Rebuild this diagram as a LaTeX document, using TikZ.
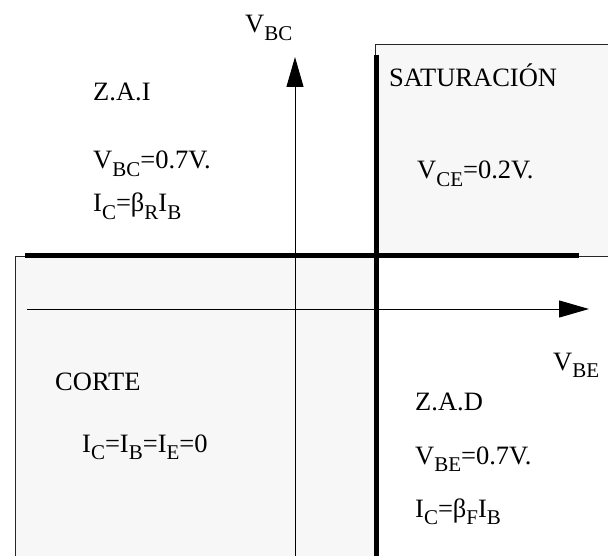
\documentclass[tikz,border=0pt]{standalone}
\usepackage{fontspec}
\setmainfont{Liberation Serif}
\usetikzlibrary{arrows.meta}
\definecolor{zonefill}{gray}{0.97}
\newcommand{\lowtx}[1]{\raisebox{-7.5pt}{\fontsize{21}{21}\selectfont #1}}

\begin{document}
\begin{tikzpicture}[x=1pt, y=-1pt,
    zone/.style={fill=zonefill, draw=black!85, line width=0.8pt},
    border/.style={line width=5pt},
    axis/.style={line width=1pt, -{Triangle[length=30pt, width=17pt]}},
    lbl/.style={anchor=base west, inner sep=0pt, font=\fontsize{26.5}{30}\selectfont}]
      \useasboundingbox (0,0) rectangle (608,556);

      % regions
      \draw[zone] (375,44) rectangle (630,256);
      \draw[zone] (15,256) rectangle (375,580);

      % ends of the lines
      \coordinate (hb0) at (25,256);
      \coordinate (hb1) at (579,256);
      \coordinate (vb0) at (376,55);
      \coordinate (vb1) at (376,570);
      \coordinate (vbe0) at (27,309);
      \coordinate (vbe1) at (589,309);
      \coordinate (vbc0) at (295,570);
      \coordinate (vbc1) at (295,57);

      \draw[axis] (vbe0) -- (vbe1);
      \draw[axis] (vbc0) -- (vbc1);
      \draw[border] (hb0) -- (hb1);
      \draw[border] (vb0) -- (vb1);

      % axis labels
      \node[lbl] (vbc) at (245,33) {V\lowtx{BC}};
      \node[lbl] (vbe) at (553,370) {V\lowtx{BE}};

      % Z.A.I
      \node[lbl] (zai) at (93,101) {Z.A.I};
      \node[lbl] (zai1) at (93,169) {V\lowtx{BC}=0.7V.};
      \node[lbl] (zai2) at (93,212) {I\lowtx{C}=β\lowtx{R}I\lowtx{B}};

      % saturacion
      \node[lbl] (sat) at (389,87) {SATURACIÓN};
      \node[lbl] (sat1) at (417,179) {V\lowtx{CE}=0.2V.};

      % corte
      \node[lbl] (cor) at (55,390) {CORTE};
      \node[lbl] (cor1) at (82,452) {I\lowtx{C}=I\lowtx{B}=I\lowtx{E}=0};

      % Z.A.D
      \node[lbl] (zad) at (415,410) {Z.A.D};
      \node[lbl] (zad1) at (415,464) {V\lowtx{BE}=0.7V.};
      \node[lbl] (zad2) at (415,517) {I\lowtx{C}=β\lowtx{F}I\lowtx{B}};
    \end{tikzpicture}
\end{document}
